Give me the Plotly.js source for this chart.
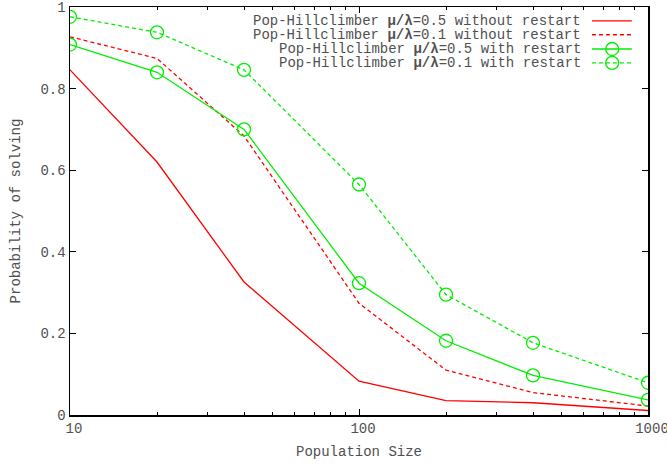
<!DOCTYPE html>
<html>
<head>
<meta charset="utf-8">
<script src="https://cdn.plot.ly/plotly-3.0.1.min.js"></script>
<style>html,body{margin:0;padding:0;background:#fff;}#chart{width:667px;height:465px;}</style>
</head>
<body>
<div id="chart"></div>
<script>
// ---- data ----
const populationSizes = [10, 20, 40, 100, 200, 400, 1000];
const ratio05NoRestart = [0.846, 0.620, 0.326, 0.083, 0.035, 0.030, 0.011];
const ratio01NoRestart = [0.927, 0.874, 0.684, 0.274, 0.110, 0.055, 0.022];
const ratio05Restart   = [0.908, 0.840, 0.700, 0.323, 0.182, 0.097, 0.037];
const ratio01Restart   = [0.976, 0.938, 0.846, 0.565, 0.295, 0.177, 0.079];
const seriesLabels = [
  'Pop-Hillclimber <b>μ/λ</b>=0.5 without restart',
  'Pop-Hillclimber <b>μ/λ</b>=0.1 without restart',
  'Pop-Hillclimber <b>μ/λ</b>=0.5 with restart',
  'Pop-Hillclimber <b>μ/λ</b>=0.1 with restart'
];
const yTickVals = [0, 0.2, 0.4, 0.6, 0.8, 1];
const yTickText = ['0', '0.2', '0.4', '0.6', '0.8', '1'];
const xTickVals = [10, 100, 1000];
const xTickText = ['10', '100', '1000'];
const xMinorVals = [20,30,40,50,60,70,80,90,200,300,400,500,600,700,800,900];

// ---- styles ----
const RED = '#ff0000', GREEN = '#00ee00';
const DASH = '4px,3px';
const FONT = 'Liberation Mono, Courier New, monospace';
const TXT = '#505050';

const series = [
  {y: ratio05NoRestart, color: RED, dash: 'solid', marker: false},
  {y: ratio01NoRestart, color: RED, dash: DASH, marker: false},
  {y: ratio05Restart, color: GREEN, dash: 'solid', marker: true},
  {y: ratio01Restart, color: GREEN, dash: DASH, marker: true}
];

const traces = series.map((s, i) => ({
  x: populationSizes,
  y: s.y,
  name: seriesLabels[i],
  type: 'scatter',
  mode: s.marker ? 'lines+markers' : 'lines',
  line: {color: s.color, width: 1.3, dash: s.dash},
  marker: {symbol: 'circle-open', size: 13, color: s.color, line: {width: 1.3, color: s.color}},
  showlegend: false,
  hoverinfo: 'skip'
}));

// custom gnuplot-style legend (text right-aligned, sample on the right)
const legendRowsY = [0.966, 0.932, 0.897, 0.863];
const annotations = seriesLabels.map((t, i) => ({
  xref: 'paper', yref: 'paper', x: 0.886, y: legendRowsY[i],
  xanchor: 'right', yanchor: 'middle', text: t, showarrow: false, borderpad: 0,
  font: {family: FONT, size: 14, color: TXT}
}));
const shapes = [];
series.forEach((s, i) => {
  shapes.push({type: 'line', xref: 'paper', yref: 'paper',
    x0: 0.903, x1: 0.972, y0: legendRowsY[i], y1: legendRowsY[i],
    line: {color: s.color, width: 1.3, dash: s.dash}});
  if (s.marker) {
    shapes.push({type: 'circle', xref: 'paper', yref: 'paper',
      xsizemode: 'pixel', ysizemode: 'pixel', xanchor: 0.938, yanchor: legendRowsY[i],
      x0: -6.5, x1: 6.5, y0: -6.5, y1: 6.5,
      line: {color: s.color, width: 1.3}});
  }
});

const layout = {
  width: 667, height: 465,
  margin: {l: 70, r: 19, t: 7, b: 50},
  paper_bgcolor: '#fff', plot_bgcolor: '#fff',
  font: {family: FONT, size: 14, color: TXT},
  showlegend: false,
  hovermode: false,
  xaxis: {
    type: 'log', range: [1, 3],
    tickmode: 'array', tickvals: xTickVals, ticktext: xTickText,
    ticks: 'inside', ticklen: 6, tickwidth: 1, tickcolor: '#000',
    minor: {tickmode: 'array', tickvals: xMinorVals, ticks: 'inside', ticklen: 3, tickwidth: 1, tickcolor: '#000', showgrid: false},
    showgrid: false, zeroline: false,
    showline: true, linecolor: '#000', linewidth: 1.5, mirror: 'allticks',
    tickfont: {family: FONT, size: 14, color: TXT},
    ticklabelshift: 4,
    ticklabeloverflow: 'allow',
    title: {text: 'Population Size', font: {family: FONT, size: 14, color: TXT}, standoff: 10}
  },
  yaxis: {
    range: [0, 1],
    tickmode: 'array', tickvals: yTickVals, ticktext: yTickText,
    ticks: 'inside', ticklen: 6, tickwidth: 1, tickcolor: '#000',
    showgrid: false, zeroline: false,
    showline: true, linecolor: '#000', linewidth: 1.5, mirror: 'allticks',
    tickfont: {family: FONT, size: 14, color: TXT},
    ticklabeloverflow: 'allow',
    title: {text: 'Probability of solving', font: {family: FONT, size: 14, color: TXT}, standoff: 16}
  },
  annotations: annotations,
  shapes: shapes
};

Plotly.newPlot('chart', traces, layout, {displayModeBar: false, staticPlot: true});
</script>
</body>
</html>
